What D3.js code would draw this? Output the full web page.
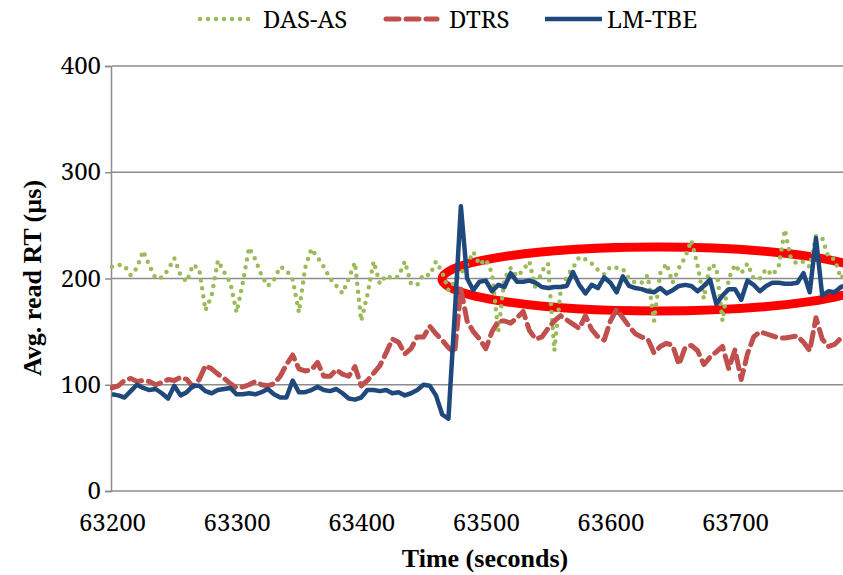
<!DOCTYPE html>
<html>
<head>
<meta charset="utf-8">
<script src="https://cdn.jsdelivr.net/npm/d3@7/dist/d3.min.js"></script>
<style>
  html, body { margin: 0; padding: 0; background: #fff; }
</style>
</head>
<body>
<svg id="chart" width="843" height="575"></svg>
<script>
// Sampling: one reading every 5 seconds starting at 63200 s
const startTime = 63200;
const stepSeconds = 5;

const seriesNames = ["DAS-AS", "DTRS", "LM-TBE"];

// Avg. read response time (µs)
const dasAs = [
  211, 213, 212, 203, 210, 226, 212, 200, 201, 208,
  219, 203, 197, 213, 209, 170, 184, 217, 206, 196,
  168, 196, 229, 218, 203, 193, 199, 211, 208, 199,
  168, 210, 228, 220, 211, 200, 193, 186, 200, 215,
  160, 185, 216, 195, 203, 200, 202, 216, 195, 194,
  204, 203, 216, 206, 189, 197, 205, 213, 225, 213,
  218, 205, 150, 200, 210, 202, 208, 216, 190, 207,
  214, 132, 188, 202, 210, 220, 218, 214, 208, 204,
  211, 210, 209, 200, 196, 196, 203, 160, 205, 214,
  196, 210, 220, 236, 212, 181, 213, 211, 160, 200,
  213, 205, 214, 200, 200, 209, 203, 211, 246, 218,
  214, 216, 211, 240, 238, 220, 218, 200, 207, 205
];

const dtrs = [
  97, 99, 104, 106, 103, 104, 103, 100, 102, 105,
  104, 107, 105, 98, 105, 118, 115, 110, 106, 101,
  97, 98, 100, 103, 100, 99, 101, 108, 119, 128,
  115, 113, 114, 121, 108, 108, 114, 110, 108, 117,
  99, 104, 111, 118, 130, 143, 140, 129, 134, 145,
  145, 155, 148, 142, 135, 130, 190, 160, 150, 143,
  134, 150, 160, 160, 158, 163, 169, 151, 143, 145,
  153, 160, 165, 161, 157, 153, 165, 152, 145, 142,
  160, 171, 163, 155, 148, 145, 143, 130, 136, 139,
  137, 119, 135, 137, 132, 119, 126, 131, 136, 115,
  133, 105, 129, 145, 150, 148, 146, 144, 144, 145,
  146, 140, 132, 163, 143, 136, 138, 144, 146, 146
];

const lmTbe = [
  91, 90, 88, 94, 100, 97, 95, 96, 92, 87,
  99, 90, 93, 99, 99, 94, 92, 95, 96, 97,
  91, 91, 92, 91, 93, 96, 91, 88, 88, 104,
  93, 93, 95, 98, 95, 94, 96, 92, 87, 86,
  88, 95, 95, 94, 95, 92, 93, 90, 92, 95,
  100, 99, 90, 72, 68, 165, 268, 200, 189, 197,
  198, 188, 194, 192, 205, 197, 197, 198, 196, 192,
  191, 192, 192, 193, 206, 194, 186, 194, 191, 201,
  196, 187, 202, 193, 191, 190, 188, 187, 191, 186,
  189, 193, 194, 193, 188, 193, 199, 176, 184, 190,
  190, 180, 198, 194, 188, 193, 196, 196, 195, 195,
  196, 205, 187, 238, 184, 188, 187, 192, 194, 194
];

const yTicks = [0, 100, 200, 300, 400];
const xTicks = [63200, 63300, 63400, 63500, 63600, 63700];

const colors = { "DAS-AS": "#9BBB59", "DTRS": "#C0504D", "LM-TBE": "#1F497D" };
const bodyFont = "Noto Serif";        // regular-weight labels
const titleFont = "Liberation Serif"; // bold axis titles

const svg = d3.select("#chart");
const plot = { left: 112, right: 843, top: 66, bottom: 491 };

const x = d3.scaleLinear().domain([63200, 63700]).range([112, 735]);
const y = d3.scaleLinear().domain([0, 400]).range([plot.bottom, plot.top]);

svg.append("defs").append("clipPath").attr("id", "plotClip")
  .append("rect")
  .attr("x", plot.left - 2).attr("y", plot.top - 20)
  .attr("width", plot.right - plot.left + 2).attr("height", plot.bottom - plot.top + 40);

// Horizontal gridlines
svg.append("g")
  .selectAll("line")
  .data(yTicks.filter(d => d > 0))
  .join("line")
  .attr("x1", plot.left).attr("x2", plot.right)
  .attr("y1", d => y(d)).attr("y2", d => y(d))
  .attr("stroke", "#8c8c8c").attr("stroke-width", 1.5);

// Y axis
const yAxis = svg.append("g")
  .attr("transform", `translate(${plot.left - 1},0)`)
  .call(d3.axisLeft(y).tickValues(yTicks).tickSize(6).tickPadding(4).tickFormat(d3.format("d")));
yAxis.select(".domain").attr("stroke", "#8c8c8c").attr("stroke-width", 1.5);
yAxis.selectAll(".tick line").attr("stroke", "#8c8c8c").attr("stroke-width", 1.5);
yAxis.selectAll("text")
  .attr("font-family", bodyFont)
  .attr("font-size", 24).attr("fill", "#000");

// X axis
const xAxis = svg.append("g")
  .attr("transform", `translate(0,${plot.bottom})`)
  .call(d3.axisBottom(x).tickValues(xTicks).tickSize(0).tickPadding(23).tickFormat(d3.format("d")));
xAxis.select(".domain").attr("stroke", "#8c8c8c").attr("stroke-width", 1.5)
  .attr("d", `M${plot.left - 1},0H${plot.right}`);
xAxis.selectAll("text")
  .attr("font-family", bodyFont)
  .attr("font-size", 24).attr("fill", "#000");

// Axis titles
svg.append("text")
  .attr("x", 485).attr("y", 567)
  .attr("text-anchor", "middle")
  .attr("font-family", titleFont)
  .attr("font-size", 26).attr("font-weight", "bold")
  .text("Time (seconds)");

svg.append("text")
  .attr("transform", "translate(41,278) rotate(-90)")
  .attr("text-anchor", "middle")
  .attr("font-family", titleFont)
  .attr("font-size", 26).attr("font-weight", "bold")
  .text("Avg. read RT (µs)");

// Highlight ellipse around the stabilised LM-TBE region
svg.append("g").attr("clip-path", "url(#plotClip)")
  .append("ellipse")
  .attr("cx", 657).attr("cy", 279)
  .attr("rx", 215).attr("ry", 32)
  .attr("fill", "none")
  .attr("stroke", "#FF0000")
  .attr("stroke-width", 9);

// Series lines
const toPoints = arr => arr.map((v, i) => ({ t: startTime + i * stepSeconds, v }));
const line = d3.line().x(d => x(d.t)).y(d => y(d.v));

const styles = {
  "DAS-AS": { width: 4.5, dash: "0 8", cap: "round" },
  "DTRS":   { width: 5, dash: "13 7", cap: "round" },
  "LM-TBE": { width: 4.5, dash: null, cap: "butt" }
};
const seriesData = { "DAS-AS": dasAs, "DTRS": dtrs, "LM-TBE": lmTbe };

const linesG = svg.append("g").attr("clip-path", "url(#plotClip)");
seriesNames.forEach(name => {
  const st = styles[name];
  linesG.append("path")
    .datum(toPoints(seriesData[name]))
    .attr("d", line)
    .attr("fill", "none")
    .attr("stroke", colors[name])
    .attr("stroke-width", st.width)
    .attr("stroke-linejoin", "round")
    .attr("stroke-linecap", st.cap)
    .attr("stroke-dasharray", st.dash);
});

// Legend
const legendItems = [
  { name: "DAS-AS", x1: 200, x2: 252, tx: 263 },
  { name: "DTRS",   x1: 386, x2: 437, tx: 449 },
  { name: "LM-TBE", x1: 545, x2: 602, tx: 607 }
];
const legend = svg.append("g");
legendItems.forEach(it => {
  const st = styles[it.name];
  legend.append("line")
    .attr("x1", it.x1).attr("x2", it.x2)
    .attr("y1", 19).attr("y2", 19)
    .attr("stroke", colors[it.name])
    .attr("stroke-width", st.width)
    .attr("stroke-linecap", st.cap)
    .attr("stroke-dasharray", st.dash);
  legend.append("text")
    .attr("x", it.tx).attr("y", 28)
    .attr("font-family", bodyFont)
    .attr("font-size", 24)
    .text(it.name);
});
</script>
</body>
</html>
